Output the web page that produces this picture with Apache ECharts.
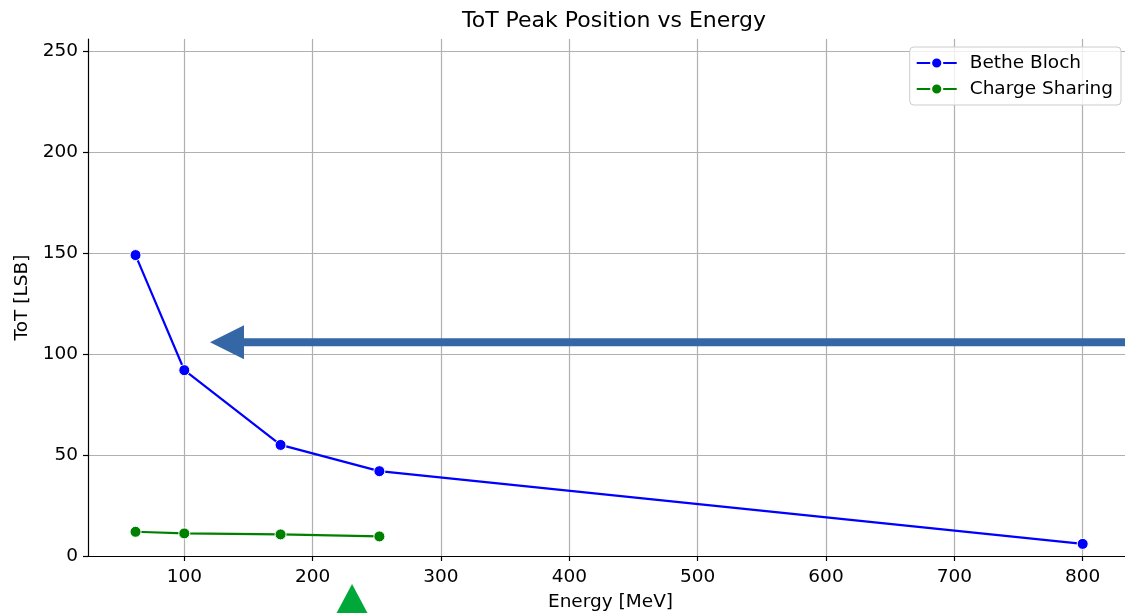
<!DOCTYPE html>
<html>
<head>
<meta charset="utf-8">
<script src="https://cdn.jsdelivr.net/npm/echarts@6/dist/echarts.min.js"></script>
<style>
  html, body { margin: 0; padding: 0; background: #fff; }
  #chart { width: 1125px; height: 613px; }
</style>
</head>
<body>
<div id="chart"></div>
<script>
// Beam energies in MeV
const energyBethe = [62, 100, 175, 252, 800];
const totBethe = [149, 92, 55, 42, 6];
const energyShare = [62, 100, 175, 252];
const totShare = [12, 11.2, 10.7, 9.7];

const xTicks = [100, 200, 300, 400, 500, 600, 700, 800];
const yTicks = [0, 50, 100, 150, 200, 250];

// annotation anchors, in data units
const arrowLevel = 105.8;
const arrowTipEnergy = 120;
const markerEnergy = 230.7;

const FONT = 'DejaVu Sans';
const FS = 18.5;

function pairs(xs, ys) { return xs.map((x, i) => [x, ys[i]]); }

const chart = echarts.init(document.getElementById('chart'), null, { renderer: 'canvas' });

const axisCommon = {
  axisLine: { show: true, onZero: false, lineStyle: { color: '#000', width: 1.2 } },
  axisTick: { show: true, length: 5, lineStyle: { color: '#000', width: 1.2 } },
  splitLine: { show: true, lineStyle: { color: '#b0b0b0', width: 1.2 } },
  nameTextStyle: { fontFamily: FONT, fontSize: FS, color: '#000' }
};

chart.setOption({
  animation: false,
  backgroundColor: '#fff',
  title: {
    text: 'ToT Peak Position vs Energy',
    left: 609, top: 5, textAlign: 'center',
    textStyle: { fontFamily: FONT, fontSize: 22, fontWeight: 'normal', color: '#000' }
  },
  grid: { left: 88, top: 39, width: 1045, height: 517, outerBoundsMode: 'none', containLabel: false },
  legend: {
    right: 4, top: 47, orient: 'vertical',
    itemWidth: 40, itemHeight: 14, itemGap: 6,
    padding: [6, 8, 6, 6],
    backgroundColor: 'rgba(255,255,255,0.8)',
    borderColor: '#cccccc', borderWidth: 1, borderRadius: 4,
    textStyle: { fontFamily: FONT, fontSize: FS, color: '#000', lineHeight: 20, padding: [0, 0, 0, 8] },
    data: ['Bethe Bloch', 'Charge Sharing']
  },
  xAxis: [
    Object.assign({}, axisCommon, {
      type: 'value', min: 24.96, max: 839.2,
      name: 'Energy [MeV]', nameLocation: 'middle', nameGap: 37,
      axisTick: Object.assign({}, axisCommon.axisTick, { customValues: xTicks }),
      axisLabel: { customValues: xTicks, fontFamily: FONT, fontSize: FS, color: '#000', margin: 12 }
    }),
    {
      // top frame line only
      type: 'value', position: 'top', min: 24.96, max: 839.2,
      axisLine: { show: true, lineStyle: { color: '#000', width: 1.2 } },
      axisTick: { show: false }, axisLabel: { show: false }, splitLine: { show: false }
    }
  ],
  yAxis: Object.assign({}, axisCommon, {
    type: 'value', min: 0, max: 256,
    name: 'ToT [LSB]', nameLocation: 'middle', nameGap: 56,
    axisTick: Object.assign({}, axisCommon.axisTick, { customValues: yTicks }),
    axisLabel: { customValues: yTicks, fontFamily: FONT, fontSize: FS, color: '#000', margin: 10 }
  }),
  series: [
    {
      name: 'Bethe Bloch', type: 'line', data: pairs(energyBethe, totBethe),
      color: '#0000ff', symbol: 'circle', symbolSize: 11, z: 3,
      lineStyle: { width: 2.2, color: '#0000ff' },
      itemStyle: { color: '#0000ff', borderColor: '#fff', borderWidth: 1 }
    },
    {
      name: 'Charge Sharing', type: 'line', data: pairs(energyShare, totShare),
      color: '#008000', symbol: 'circle', symbolSize: 11, z: 3,
      lineStyle: { width: 2.2, color: '#008000' },
      itemStyle: { color: '#008000', borderColor: '#fff', borderWidth: 1 }
    }
  ]
});

// Annotations: a leftward arrow across the plot and a marker under the x axis
const tip = chart.convertToPixel({ xAxisIndex: 0, yAxisIndex: 0 }, [arrowTipEnergy, arrowLevel]);
const mark = chart.convertToPixel({ xAxisIndex: 0, yAxisIndex: 0 }, [markerEnergy, 0]);
const axisY = mark[1];

chart.setOption({
  graphic: [
    {
      type: 'rect', z: 10,
      shape: { x: tip[0] + 30, y: tip[1] - 4, width: 1125 - tip[0], height: 8 },
      style: { fill: '#3567a7' }
    },
    {
      type: 'polygon', z: 10,
      shape: { points: [[tip[0], tip[1]], [tip[0] + 34, tip[1] - 17], [tip[0] + 34, tip[1] + 17]] },
      style: { fill: '#3567a7' }
    },
    {
      type: 'polygon', z: 10,
      shape: { points: [[mark[0], axisY + 28], [mark[0] - 16, axisY + 58], [mark[0] + 16, axisY + 58]] },
      style: { fill: '#00a83a' }
    }
  ]
});
</script>
</body>
</html>
